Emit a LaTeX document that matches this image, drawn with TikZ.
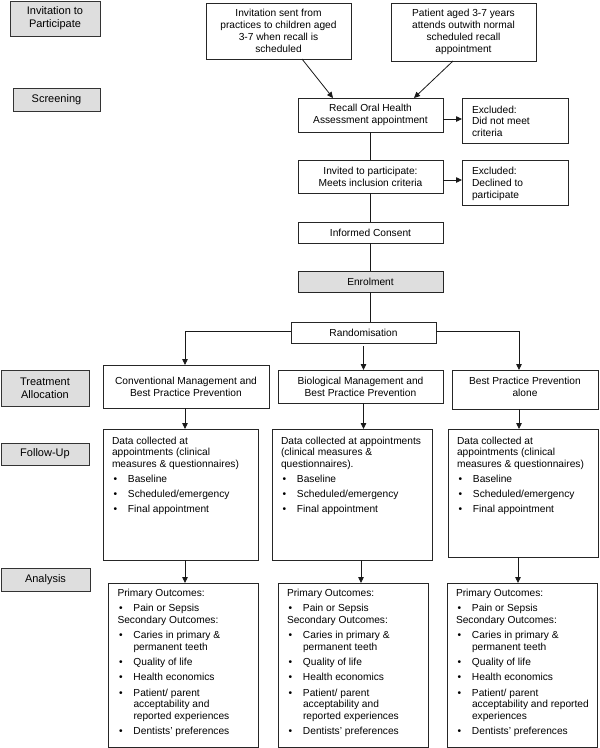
\documentclass[tikz,border=0pt]{standalone}
\usepackage{fontspec}
\setmainfont{Liberation Sans}
\usetikzlibrary{arrows.meta,calc}
\newcommand{\bl}[1]{\makebox[16pt][l]{\hspace{1.5pt}\textbullet}#1}
\newcommand{\bc}[1]{\hspace*{16pt}#1}
\begin{document}
\begin{tikzpicture}[x=1pt,y=-1pt,
  every node/.style={inner sep=0pt, outer sep=0pt},
  box/.style={draw=black!85, line width=0.8pt, fill=white, align=center, font=\fontsize{10.2}{11.8}\selectfont},
  lbl/.style={draw=black!80, line width=1pt, fill=black!13, align=center, font=\fontsize{11}{13.3}\selectfont},
  txt/.style={anchor=north west, align=left, font=\fontsize{10.2}{11.7}\selectfont},
  ctxt/.style={align=center, font=\fontsize{10.2}{11.8}\selectfont},
  arr/.style={draw=black!90, line width=0.8pt, -{Triangle[length=6pt,width=5.5pt]}},
  ln/.style={draw=black!90, line width=0.8pt}
]
\useasboundingbox (0,0) rectangle (600,748);

% stage labels
\node[lbl, minimum width=90pt, minimum height=35pt] (linv) at (55,18.5) {Invitation to\\Participate};
\node[lbl, minimum width=87pt, minimum height=23pt] (lscr) at (56.5,99.5) {Screening};
\node[lbl, minimum width=88pt, minimum height=36pt] (ltr) at (45,388) {Treatment\\Allocation};
\node[lbl, minimum width=88pt, minimum height=22pt] (lfu) at (45,454) {Follow-Up};
\node[lbl, minimum width=89pt, minimum height=23pt] (lan) at (45.5,579.5) {Analysis};

% top boxes
\node[box, minimum width=145pt, minimum height=56pt] (invs) at (278.5,31) {Invitation sent from\\practices to children aged\\3-7 when recall is\\scheduled};
\node[box, minimum width=145pt, minimum height=58pt] (pat) at (463.5,32) {Patient aged 3-7 years\\attends outwith normal\\scheduled recall\\appointment};
\node[box, minimum width=145pt, minimum height=34pt] (rec) at (370.5,115) {Recall Oral Health\\Assessment appointment};
\node[box, minimum width=106pt, minimum height=45pt] (ex1) at (515,120.5) {};
\node[txt] (ex1t) at (472,105.8) {Excluded:\\Did not meet\\criteria};
\node[box, minimum width=145pt, minimum height=33pt] (invd) at (370.5,176.5) {Invited to participate:\\Meets inclusion criteria};
\node[box, minimum width=106pt, minimum height=45pt] (ex2) at (515,182.5) {};
\node[txt] (ex2t) at (472,167.3) {Excluded:\\Declined to\\participate};
\node[box, minimum width=145pt, minimum height=21pt] (con) at (370.5,232.5) {Informed Consent};
\node[box, fill=black!13, minimum width=145pt, minimum height=21pt] (enr) at (370.5,281.5) {Enrolment};
\node[box, minimum width=145pt, minimum height=21pt] (ran) at (363.5,332.5) {Randomisation};

% treatment boxes
\node[box, minimum width=166pt, minimum height=43pt] (conv) at (186,386.5) {Conventional Management and\\Best Practice Prevention};
\node[box, minimum width=165pt, minimum height=33pt] (bio) at (360.5,386.5) {Biological Management and\\Best Practice Prevention};
\node[box, minimum width=146pt, minimum height=39pt] (best) at (525,389.5) {};
\node[ctxt] (bestt) at (525,386.5) {Best Practice Prevention\\alone};

% data boxes
\node[box, minimum width=155pt, minimum height=131pt] (cd) at (180.5,494.5) {};
\node[box, minimum width=160pt, minimum height=131pt] (bd) at (352,494.5) {};
\node[box, minimum width=150pt, minimum height=128pt] (pd) at (523,493) {};
\node[txt] (cdt) at (112,436.8) {Data collected at\\appointments (clinical\\measures \& questionnaires)\\[3.3pt]\bl{Baseline}\\[3.3pt]\bl{Scheduled/emergency}\\[3.3pt]\bl{Final appointment}};
\node[txt] (bdt) at (281,436.8) {Data collected at appointments\\(clinical measures \&\\questionnaires).\\[3.3pt]\bl{Baseline}\\[3.3pt]\bl{Scheduled/emergency}\\[3.3pt]\bl{Final appointment}};
\node[txt] (pdt) at (457,436.8) {Data collected at\\appointments (clinical\\measures \& questionnaires)\\[3.3pt]\bl{Baseline}\\[3.3pt]\bl{Scheduled/emergency}\\[3.3pt]\bl{Final appointment}};

% outcome boxes
\node[box, minimum width=150pt, minimum height=164pt] (co) at (183,665) {};
\node[box, minimum width=150pt, minimum height=164pt] (bo) at (353,665) {};
\node[box, minimum width=150pt, minimum height=164pt] (po) at (522,665) {};
\node[txt] (cot) at (117.5,589) {Primary Outcomes:\\[3.8pt]\bl{Pain or Sepsis}\\Secondary Outcomes:\\[3.5pt]\bl{Caries in primary \&}\\\bc{permanent teeth}\\[3.5pt]\bl{Quality of life}\\[3.5pt]\bl{Health economics}\\[3.5pt]\bl{Patient/ parent}\\\bc{acceptability and}\\\bc{reported experiences}\\[3.5pt]\bl{Dentists' preferences}};
\node[txt] (bot) at (287,589) {Primary Outcomes:\\[3.8pt]\bl{Pain or Sepsis}\\Secondary Outcomes:\\[3.5pt]\bl{Caries in primary \&}\\\bc{permanent teeth}\\[3.5pt]\bl{Quality of life}\\[3.5pt]\bl{Health economics}\\[3.5pt]\bl{Patient/ parent}\\\bc{acceptability and}\\\bc{reported experiences}\\[3.5pt]\bl{Dentists' preferences}};
\node[txt] (pot) at (456,589) {Primary Outcomes:\\[3.8pt]\bl{Pain or Sepsis}\\Secondary Outcomes:\\[3.5pt]\bl{Caries in primary \&}\\\bc{permanent teeth}\\[3.5pt]\bl{Quality of life}\\[3.5pt]\bl{Health economics}\\[3.5pt]\bl{Patient/ parent}\\\bc{acceptability and reported}\\\bc{experiences}\\[3.5pt]\bl{Dentists' preferences}};

% connectors
\draw[arr] ([xshift=23.5pt]invs.south) -- ([xshift=-37.5pt]rec.north);
\draw[arr] ([xshift=-10.5pt]pat.south) -- ([xshift=43.5pt]rec.north);
\path (ex1.west) ++(0,-1.5) coordinate (ex1in);
\path (ex2.west) ++(0,-2.5) coordinate (ex2in);
\draw[arr] (rec.east |- ex1in) -- (ex1in);
\draw[arr] (invd.east |- ex2in) -- (ex2in);
\draw[ln] (rec.south) -- (invd.north);
\draw[ln] (invd.south) -- (con.north);
\draw[ln] (con.south) -- (enr.north);
\draw[ln] (enr.south) -- (enr.south |- ran.north);
\draw[arr] ([yshift=1.5pt]ran.west) -| ([xshift=-1pt]conv.north);
\draw[arr] ([yshift=1.5pt]ran.east) -| ([xshift=-6pt]best.north);
\draw[arr] ([yshift=-3pt]ran.south) -- (ran.south |- bio.north);
\draw[arr] ([xshift=-1pt]conv.south) -- ++(0,21);
\draw[arr] (ran.south |- bio.south) -- (ran.south |- bd.north);
\draw[arr] ([xshift=-6pt]best.south) -- ++(0,20);
\draw[arr] ([xshift=4.5pt]cd.south) -- ++(0,23);
\draw[arr] ([xshift=9pt]bd.south) -- ++(0,23);
\draw[arr] ([xshift=-5pt]pd.south) -- ++(0,26);
\end{tikzpicture}
\end{document}
